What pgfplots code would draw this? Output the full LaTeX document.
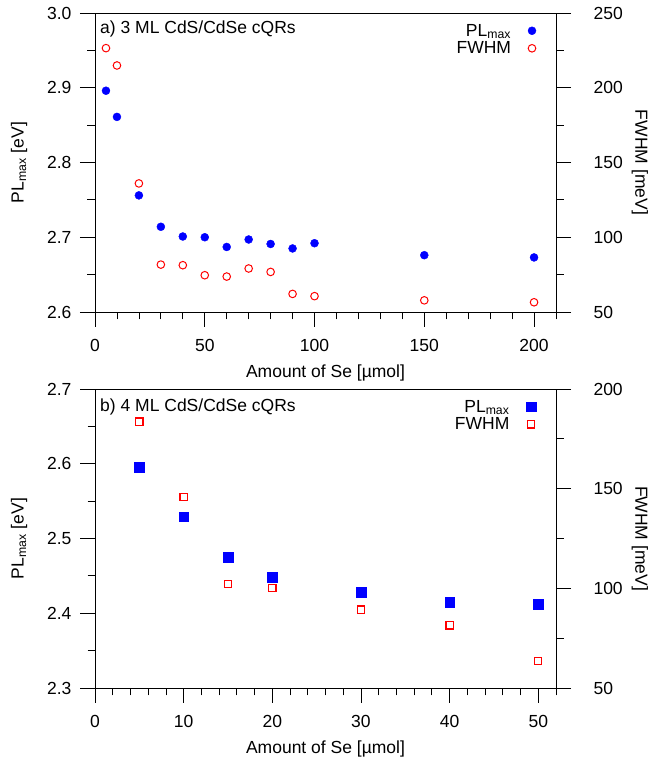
\documentclass[border=0pt]{standalone}
\usepackage{fontspec}
\setmainfont{Liberation Sans}
\usepackage{pgfplots}
\pgfplotsset{compat=1.18}
\usepackage{pgfplotstable}

\pgfplotstableread{
x pl fwhm
5 2.896 226.5
10 2.861 214.9
20 2.756 136.0
30 2.714 81.7
40 2.701 81.3
50 2.700 74.6
60 2.687 73.7
70 2.697 79.1
80 2.691 76.8
90 2.685 62.1
100 2.692 60.6
150 2.676 57.8
200 2.673 56.5
}\dataA

\pgfplotstableread{
x pl fwhm
5 2.595 183.6
10 2.529 145.8
15 2.475 102.3
20 2.448 100.3
30 2.428 89.3
40 2.415 81.4
50 2.412 63.4
}\dataB

\pgfplotsset{
  base/.style={
    scale only axis, width=461pt, height=299pt,
    anchor=south west,
    font=\fontsize{17.5}{20}\selectfont,
    /pgf/number format/assume math mode=true,
    tick align=outside,
    major tick length=15pt, minor tick length=7.5pt,
    every tick/.style={black, line width=0.8pt},
    every minor tick/.style={black, line width=0.8pt},
    axis line style={line width=0.8pt},
    legend style={at={(rel axis cs:1,1)}, anchor=north east, draw=none, fill=none,
      font=\fontsize{17.5}{18}\selectfont, inner sep=0pt, outer xsep=20pt, outer ysep=9pt,
      row sep=0pt, /tikz/every odd column/.append style={column sep=15pt},
      /tikz/every even column/.append style={column sep=0pt}},
    legend cell align=right,
    legend plot pos=right,
    legend image code/.code={\draw[mark repeat=2,mark phase=2,#1] plot coordinates {(0pt,0pt) (5pt,0pt) (10pt,0pt)};},
  },
  leftax/.style={
    base, xtick pos=left, ytick pos=left,
    ylabel={PL\textsubscript{max} [eV]},
    xlabel={Amount of Se [µmol]},
    ylabel style={at={([xshift=-76pt]axis description cs:0,0.5)}, anchor=center},
    xlabel style={at={([yshift=-61pt]axis description cs:0.5,0)}, anchor=center},
    xticklabel style={yshift=-9pt},
    yticklabel style={xshift=-5pt, /pgf/number format/fixed, /pgf/number format/fixed zerofill,
      /pgf/number format/precision=1},
  },
  rightax/.style={
    base, axis x line=none, axis y line*=right, ytick pos=right,
    ylabel={FWHM [meV]},
    yticklabel style={xshift=19pt},
    ylabel style={at={([xshift=84pt]axis description cs:1,0.5)}, anchor=center, rotate=180},
  },
}

\begin{document}
\begin{tikzpicture}
\useasboundingbox (0,0) rectangle (649pt,763pt);
% ---------- panel a ----------
\begin{axis}[leftax, at={(95pt,451pt)},
  xmin=0, xmax=210, ymin=2.6, ymax=3.0,
  xtick={0,50,100,150,200}, minor xtick={10,20,...,210},
  ytick={2.6,2.7,2.8,2.9,3.0}, minor ytick={2.65,2.75,2.85,2.95}]
\addplot[only marks, mark=*, blue, mark size=4pt] table[x=x, y=pl] {\dataA};
\node[anchor=west, inner sep=0pt] at (rel axis cs:0,1) [xshift=5pt, yshift=-16pt] {a) 3 ML CdS/CdSe cQRs};
\end{axis}
\begin{axis}[rightax, at={(95pt,451pt)},
  xmin=0, xmax=210, ymin=50, ymax=250,
  ytick={50,100,150,200,250}, minor ytick={75,125,175,225}]
\addlegendimage{only marks, mark=*, blue, mark size=4pt}
\addlegendentry{PL\textsubscript{max}}
\addplot[only marks, mark=o, red, mark size=3.8pt, line width=1pt] table[x=x, y=fwhm] {\dataA};
\addlegendentry{FWHM}
\end{axis}
% ---------- panel b ----------
\begin{axis}[leftax, at={(95pt,75pt)},
  xmin=0, xmax=52, ymin=2.3, ymax=2.7,
  xtick={0,10,20,30,40,50}, minor xtick={2,4,...,52},
  ytick={2.3,2.4,2.5,2.6,2.7}, minor ytick={2.35,2.45,2.55,2.65}]
\addplot[only marks, mark=square*, blue, mark size=4.8pt] table[x=x, y=pl] {\dataB};
\node[anchor=west, inner sep=0pt] at (rel axis cs:0,1) [xshift=5pt, yshift=-18pt] {b) 4 ML CdS/CdSe cQRs};
\end{axis}
\begin{axis}[rightax, at={(95pt,75pt)},
  xmin=0, xmax=52, ymin=50, ymax=200,
  ytick={50,100,150,200}, minor ytick={75,125,175}]
\addlegendimage{only marks, mark=square*, blue, mark size=4.8pt}
\addlegendentry{PL\textsubscript{max}}
\addplot[only marks, mark=square, red, mark size=3.6pt, line width=1.2pt] table[x=x, y=fwhm] {\dataB};
\addlegendentry{FWHM}
\end{axis}
\end{tikzpicture}
\end{document}
